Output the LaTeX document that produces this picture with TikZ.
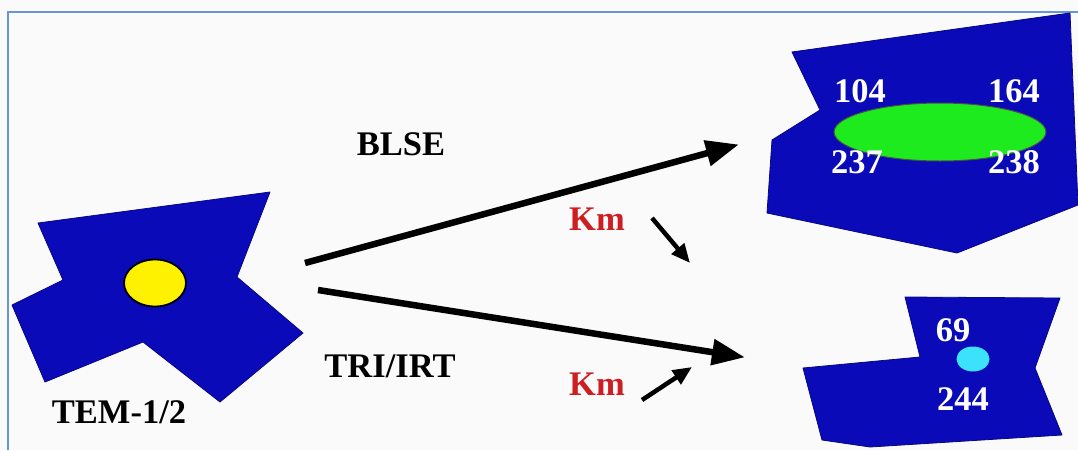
\documentclass[tikz,border=0pt]{standalone}
\usepackage{fontspec}
\setmainfont{Liberation Serif}
\usetikzlibrary{arrows.meta,shapes.geometric}
\definecolor{regionblue}{RGB}{10,10,185}
\definecolor{framecol}{RGB}{105,150,210}
\definecolor{kmred}{RGB}{205,30,35}
\definecolor{sitegreen}{RGB}{30,235,30}
\definecolor{sitecyan}{RGB}{60,225,250}
\tikzset{
  region/.style={fill=regionblue,draw=regionblue!70!black,line width=0.8pt,line join=round},
  lbl/.style={font=\fontsize{34.5}{34.5}\selectfont\bfseries,inner sep=0pt,anchor=base},
  numlbl/.style={lbl,text=white},
  kmlbl/.style={lbl,text=kmred},
  bigarrow/.style={line width=6.5pt,-{Triangle[length=33pt,width=25pt]},shorten >=-2pt},
  smallarrow/.style={line width=4.5pt,-{Triangle[length=19pt,width=16pt]}}
}
\begin{document}
\begin{tikzpicture}[x=1pt,y=-1pt]
\useasboundingbox (0,0) rectangle (1078,450);
\fill[white!98!black] (0,0) rectangle (1078,450);
% outer frame
\draw[framecol,line width=2pt] (8,450) -- (8,12) -- (1078,12);

% TEM-1/2 enzyme
\draw[region] (38,223) -- (270,192) -- (237,277) -- (303,333) -- (220,402)
  -- (143,342) -- (45,382) -- (12,305) -- (63,280) -- cycle;
\node[ellipse,draw=black,line width=1.8pt,fill=yellow,minimum width=62pt,minimum height=47pt,inner sep=0pt] (tem) at (155,283) {};
\node[lbl] (temlbl) at (119,423) {TEM-1/2};

% BLSE variant
\draw[region] (792,52) -- (1070,13) -- (1078,205) -- (957,253) -- (767,213)
  -- (772,140) -- (820,110) -- cycle;
\node[ellipse,draw=black!70,line width=1pt,fill=sitegreen,minimum width=212pt,minimum height=58pt,inner sep=0pt] (blse) at (940,132) {};
\node[numlbl] (n104) at (860,102) {104};
\node[numlbl] (n164) at (1014,102) {164};
\node[numlbl] (n237) at (857,173) {237};
\node[numlbl] (n238) at (1014,173) {238};

% TRI/IRT variant
\draw[region] (905,297) -- (1060,298) -- (1035,368) -- (1062,435) -- (870,447)
  -- (822,440) -- (803,368) -- (920,357) -- cycle;
\node[ellipse,fill=sitecyan,minimum width=33pt,minimum height=25pt,inner sep=0pt] (tri) at (973,359) {};
\node[numlbl] (n69) at (953,341) {69};
\node[numlbl] (n244) at (963,410) {244};

% pathway labels
\node[lbl] (blselbl) at (401,155) {BLSE};
\node[lbl] (trilbl) at (390,377) {TRI/IRT};
\node[kmlbl] (km1) at (597,230) {Km};
\node[kmlbl] (km2) at (597,395) {Km};

% arrows
\coordinate (a1s) at (305,263);
\coordinate (a1e) at (737,145);
\coordinate (a2s) at (318,290);
\coordinate (a2e) at (743,357);
\coordinate (k1s) at (652,218);
\coordinate (k1e) at (690,263);
\coordinate (k2s) at (642,400);
\coordinate (k2e) at (692,367);
\draw[bigarrow] (a1s) -- (a1e);
\draw[bigarrow] (a2s) -- (a2e);
\draw[smallarrow] (k1s) -- (k1e);
\draw[smallarrow] (k2s) -- (k2e);
\end{tikzpicture}
\end{document}
